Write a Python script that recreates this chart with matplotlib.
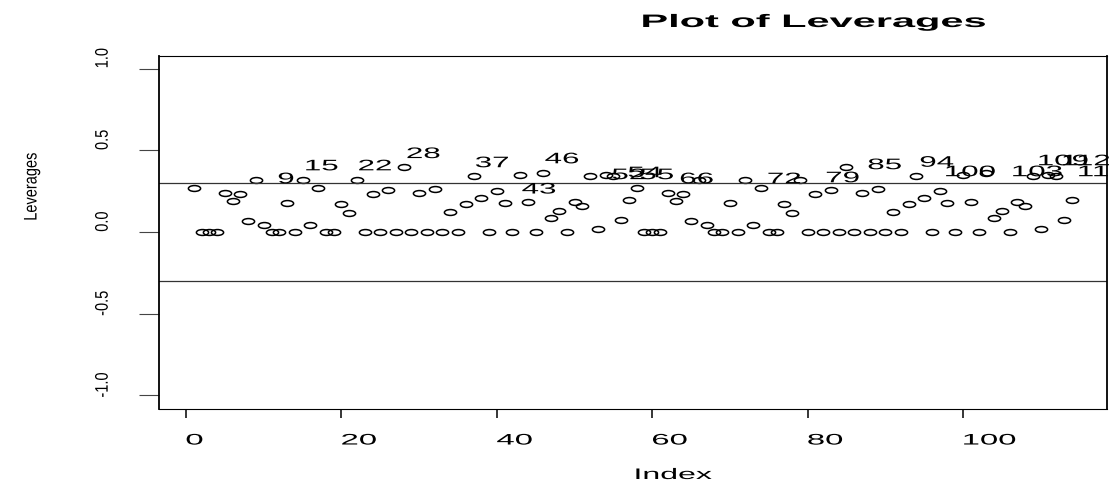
# leverage plot, base-R look (wide horizontal text, oval points)

import numpy as np
import matplotlib.pyplot as plt
from matplotlib.path import Path
from matplotlib.markers import MarkerStyle
from matplotlib.patheffects import AbstractPathEffect
from matplotlib.transforms import Affine2D, IdentityTransform, ScaledTranslation

# leverage of each observation (index 1..114)
lev = [0.27, 0.00, 0.00, 0.00, 0.24, 0.19, 0.23, 0.065, 0.32, 0.043,
       0.00, 0.00, 0.18, 0.00, 0.32, 0.04, 0.27, 0.00, 0.00, 0.17,
       0.115, 0.32, 0.00, 0.23, 0.00, 0.255, 0.00, 0.40, 0.00, 0.24,
       0.00, 0.265, 0.00, 0.12, 0.00, 0.17, 0.34, 0.21, 0.00, 0.25,
       0.18, 0.00, 0.35, 0.185, 0.00, 0.36, 0.085, 0.13, 0.00, 0.185,
       0.16, 0.345, 0.02, 0.35, 0.34, 0.075, 0.195,
       0.27, 0.00, 0.00, 0.00, 0.24, 0.19, 0.23, 0.065, 0.32, 0.043,
       0.00, 0.00, 0.18, 0.00, 0.32, 0.04, 0.27, 0.00, 0.00, 0.17,
       0.115, 0.32, 0.00, 0.23, 0.00, 0.255, 0.00, 0.40, 0.00, 0.24,
       0.00, 0.265, 0.00, 0.12, 0.00, 0.17, 0.34, 0.21, 0.00, 0.25,
       0.18, 0.00, 0.35, 0.185, 0.00, 0.36, 0.085, 0.13, 0.00, 0.185,
       0.16, 0.345, 0.02, 0.35, 0.34, 0.075, 0.195]

cutoff = 0.3

# labels of the high leverage points and where they were written
lab_text = ['9', '15', '22', '28', '37', '43', '46', '52', '54', '55',
            '66', '72', '79', '85', '94', '100', '103', '109', '111', '112']
lab_x = [11.84, 15.32, 22.18, 28.40, 37.23, 43.24, 46.20, 54.83, 56.89, 58.43,
         63.58, 74.86, 82.37, 87.77, 94.47, 97.68, 106.31, 109.65, 114.80, 112.74]
lab_y = [0.323, 0.402, 0.402, 0.477, 0.421, 0.260, 0.445, 0.348, 0.360, 0.348,
         0.323, 0.323, 0.329, 0.409, 0.424, 0.366, 0.366, 0.433, 0.366, 0.433]

xticks = [0, 20, 40, 60, 80, 100]
xtick_labels = ['0', '20', '40', '60', '80', '100']
yticks = [-1.0, -0.5, 0.0, 0.5, 1.0]
ytick_labels = ['-1.0', '-0.5', '0.0', '0.5', '1.0']


class Stretch(AbstractPathEffect):
    """widen the glyphs horizontally, left edge stays put"""

    def __init__(self, sx):
        super().__init__()
        self.sx = sx

    def draw_path(self, renderer, gc, tpath, affine, rgbFace=None):
        path = affine.transform_path(tpath)
        x0 = path.get_extents().x0
        widen = Affine2D().translate(-x0, 0).scale(self.sx, 1).translate(x0, 0)
        renderer.draw_path(gc, widen.transform_path(path), IdentityTransform(), rgbFace)


plt.rcParams['font.family'] = ['Liberation Sans', 'DejaVu Sans']

fig = plt.figure(figsize=(11.09, 4.81), dpi=100)
ax = fig.add_axes([0.1431, 0.1486, 0.8550, 0.7339])

# oval open markers
oval = Path.unit_circle().transformed(Affine2D().scale(1, 0.48))
index = np.arange(1, len(lev) + 1)
ax.plot(index, lev, linestyle='none', marker=MarkerStyle(oval), markersize=8.8,
        markerfacecolor='none', markeredgecolor='black', markeredgewidth=1.1)

ax.axhline(cutoff, color='#333333', lw=0.9)
ax.axhline(-cutoff, color='#333333', lw=0.9)

for t, x, y in zip(lab_text, lab_x, lab_y):
    ax.text(x, y, t, ha='left', va='center', fontsize=11,
            path_effects=[Stretch(2.05)], clip_on=False)

ax.set_xlim(-3.52, 118.52)
ax.set_ylim(-1.08, 1.08)

for side in ['left', 'right']:
    ax.spines[side].set_linewidth(1.3)
for side in ['top', 'bottom']:
    ax.spines[side].set_linewidth(0.8)

ax.tick_params(axis='x', direction='out', length=6.5, width=1.1, color='black', pad=11.5)
ax.tick_params(axis='y', direction='out', length=14.4, width=0.8, color='#444444', pad=22)

ax.set_xticks(xticks, labels=xtick_labels, ha='left', fontsize=11,
              path_effects=[Stretch(2.15)])
ax.set_yticks(yticks, labels=ytick_labels, rotation=90, va='center', fontsize=10.5,
              path_effects=[Stretch(1.25)])

# y tick labels sit a little above their ticks
shift = ScaledTranslation(0, 10.5 / 100, fig.dpi_scale_trans)
for lab in ax.get_yticklabels():
    lab.set_transform(lab.get_transform() + shift)

# titles
fig.text(642 / 1109, 1 - 28 / 481, 'Plot of Leverages', fontsize=13, fontweight='bold',
         ha='left', va='baseline', path_effects=[Stretch(2.3)])
fig.text(635 / 1109, 1 - 480 / 481, 'Index', fontsize=11,
         ha='left', va='baseline', path_effects=[Stretch(2.1)])
fig.text(23 / 1109, 1 - 187.5 / 481, 'Leverages', fontsize=10.5, rotation=90,
         ha='left', va='center', path_effects=[Stretch(1.25)])

fig.savefig('out.png', dpi=100)
